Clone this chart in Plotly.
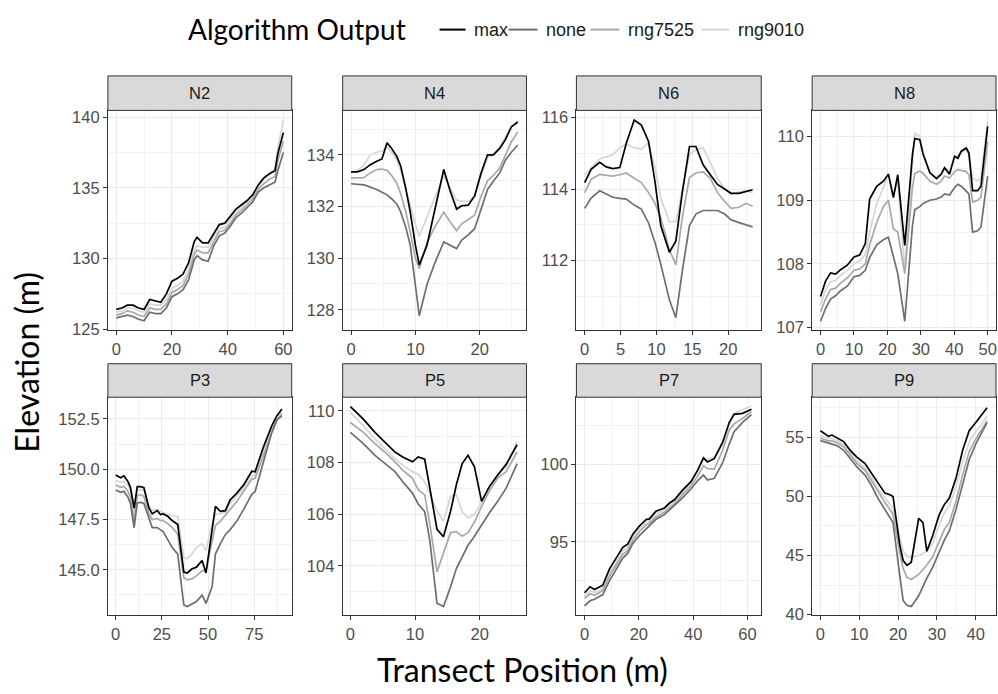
import plotly.graph_objects as go

# ---------------------------------------------------------------------------
# Elevation profiles (m) along each transect, one list per algorithm output
# ---------------------------------------------------------------------------
SERIES = ["max", "none", "rng7525", "rng9010"]

# N2
n2_x = [0, 2, 4, 6, 8, 10, 12, 14, 16, 18, 20, 22, 24, 26, 28, 29, 31, 33, 35, 37,
        39, 41, 43, 45, 47, 49, 51, 53, 55, 57, 58, 60]
n2_max = [126.4, 126.5, 126.7, 126.7, 126.5, 126.4, 127.1, 127.0, 126.9, 127.5, 128.4,
          128.6, 128.9, 129.7, 131.2, 131.5, 131.1, 131.1, 131.8, 132.4, 132.5, 133.0,
          133.5, 133.8, 134.1, 134.5, 135.2, 135.7, 136.0, 136.2, 137.4, 138.9]
n2_none = [125.8, 125.9, 126.0, 125.9, 125.7, 125.6, 126.2, 126.1, 126.1, 126.5, 127.3,
           127.5, 127.8, 128.5, 129.9, 130.2, 129.9, 129.8, 130.9, 131.6, 131.8, 132.3,
           132.9, 133.2, 133.6, 134.0, 134.7, 135.0, 135.2, 135.4, 136.2, 137.5]
n2_rng7525 = [126.0, 126.1, 126.3, 126.2, 126.0, 125.9, 126.5, 126.4, 126.4, 126.8, 127.6,
              127.8, 128.1, 128.9, 130.3, 130.6, 130.4, 130.4, 131.2, 131.9, 132.0, 132.5,
              133.1, 133.4, 133.8, 134.2, 134.9, 135.3, 135.6, 135.8, 136.9, 138.3]
n2_rng9010 = [126.2, 126.3, 126.5, 126.5, 126.3, 126.2, 126.8, 126.7, 126.7, 127.1, 127.9,
              128.1, 128.4, 129.2, 130.6, 130.9, 130.8, 130.8, 131.5, 132.1, 132.2, 132.8,
              133.3, 133.6, 134.0, 134.4, 135.1, 135.6, 135.9, 136.4, 137.8, 139.8]

# N4
n4_x = [0, 1, 2, 3, 4, 4.8, 5.6, 6.3, 7.1, 7.7, 8.5, 9.2, 10, 10.6, 11.8, 13, 14.4,
        15.4, 16.4, 17.2, 18.2, 19.2, 20.2, 21.2, 22.1, 23.1, 24, 24.9, 25.9]
n4_max = [133.34, 133.34, 133.43, 133.62, 133.75, 133.84, 134.47, 134.25, 133.94, 133.58,
          132.7, 131.78, 130.5, 129.74, 130.5, 131.9, 133.43, 132.6, 131.9, 132.03, 132.05,
          132.41, 133.3, 134.0, 134.0, 134.25, 134.6, 135.08, 135.27]
n4_none = [132.88, 132.87, 132.84, 132.75, 132.66, 132.55, 132.45, 132.3, 132.1, 131.8,
           131.2, 130.5, 128.9, 127.77, 128.98, 129.8, 130.63, 130.5, 130.37, 130.7, 130.9,
           131.14, 131.9, 132.66, 132.98, 133.3, 133.8, 134.1, 134.38]
n4_rng7525 = [133.1, 133.1, 133.12, 133.3, 133.43, 133.45, 133.4, 133.2, 132.9, 132.5,
              131.8, 131.0, 130.0, 129.6, 130.6, 131.2, 131.78, 131.4, 131.07, 131.33,
              131.5, 131.66, 132.4, 133.0, 133.2, 133.5, 134.0, 134.5, 134.89]
n4_rng9010 = [133.3, 133.4, 133.6, 134.0, 134.1, 134.15, 134.3, 134.1, 133.8, 133.4,
              132.7, 132.0, 131.3, 130.85, 131.6, 132.4, 133.2, 132.7, 132.25, 132.2,
              132.2, 132.4, 133.2, 133.9, 134.0, 134.3, 134.7, 135.1, 135.3]

# N6
n6_x = [0, 0.9, 2.1, 3, 3.9, 4.9, 5.8, 6.9, 7.9, 8.9, 9.8, 10.6, 11.8, 12.7, 13.6, 14.6,
        15.5, 16.5, 17.5, 18.5, 19.5, 20.4, 21.5, 22.5, 23.4]
n6_max = [114.18, 114.55, 114.75, 114.62, 114.57, 114.6, 115.28, 115.93, 115.79, 115.33,
          114.2, 112.98, 112.23, 112.54, 113.9, 115.19, 115.19, 114.68, 114.4, 114.13,
          114.0, 113.88, 113.88, 113.93, 113.98]
n6_none = [113.46, 113.75, 113.95, 113.85, 113.77, 113.74, 113.72, 113.55, 113.44, 113.05,
           112.5, 111.9, 110.9, 110.4, 111.7, 112.98, 113.3, 113.4, 113.4, 113.4, 113.3,
           113.14, 113.06, 113.0, 112.94]
n6_rng7525 = [113.9, 114.27, 114.41, 114.38, 114.36, 114.4, 114.45, 114.3, 114.18, 113.9,
              113.6, 113.2, 112.3, 111.88, 113.2, 114.32, 114.45, 114.48, 114.3, 113.9,
              113.65, 113.46, 113.49, 113.6, 113.52]
n6_rng9010 = [114.4, 114.6, 114.85, 114.9, 114.96, 115.15, 115.26, 115.15, 115.12, 115.3,
              114.6, 113.75, 113.08, 113.08, 114.0, 114.96, 115.1, 115.15, 114.75, 114.3,
              114.0, 113.86, 113.92, 113.95, 113.9]

# N8
n8_x = [0, 1.5, 3, 4.5, 6, 8, 10, 11.7, 13.4, 14.7, 16.8, 18.8, 20.3, 21.8, 23.1, 25.2,
        27.5, 28.2, 29.7, 30.7, 32.7, 34.7, 36.1, 37.1, 38.6, 40.1, 41.1, 42.1, 43.6,
        44.4, 45.5, 47, 48, 50]
n8_max = [107.49, 107.73, 107.86, 107.84, 107.91, 107.98, 108.11, 108.14, 108.32, 109.02,
          109.22, 109.3, 109.41, 109.04, 109.4, 108.29, 109.72, 109.97, 109.95, 109.72,
          109.43, 109.34, 109.41, 109.51, 109.41, 109.69, 109.66, 109.77, 109.82, 109.74,
          109.15, 109.15, 109.22, 110.16]
n8_none = [107.1, 107.3, 107.45, 107.5, 107.58, 107.65, 107.8, 107.82, 107.9, 108.1,
           108.3, 108.38, 108.42, 108.09, 107.85, 107.1, 108.6, 108.85, 108.9, 108.95,
           109.0, 109.02, 109.05, 109.1, 109.08, 109.2, 109.25, 109.22, 109.15, 109.1,
           108.5, 108.52, 108.58, 109.38]
n8_rng7525 = [107.25, 107.45, 107.6, 107.62, 107.7, 107.78, 107.9, 107.92, 108.0, 108.3,
              108.65, 108.9, 109.0, 108.55, 108.5, 107.85, 109.2, 109.42, 109.46, 109.42,
              109.3, 109.25, 109.3, 109.38, 109.35, 109.45, 109.48, 109.47, 109.45, 109.4,
              108.97, 109.0, 109.05, 109.92]
n8_rng9010 = [107.35, 107.6, 107.72, 107.74, 107.82, 107.9, 108.0, 108.05, 108.15, 108.5,
              108.95, 109.2, 109.42, 109.08, 109.3, 107.9, 109.6, 110.05, 110.0, 109.75,
              109.45, 109.36, 109.42, 109.52, 109.45, 109.68, 109.7, 109.75, 109.8, 109.7,
              109.35, 109.3, 109.35, 110.23]

# P3
p3_x = [0, 2.7, 4.5, 6.7, 8, 10, 11.7, 13.5, 15.3, 18, 19.8, 22.5, 24.3, 25.7, 28.2,
        30.6, 33.6, 36.9, 38.7, 41.4, 43.7, 46.8, 48.9, 52.2, 54, 56.7, 59.4, 62, 65.6,
        69.3, 73.7, 75.5, 80, 84.5, 87.2, 90]
p3_max = [149.71, 149.58, 149.67, 149.38, 149.1, 148.07, 149.13, 149.13, 149.08, 148.07,
          147.78, 147.94, 147.75, 147.78, 147.66, 147.45, 147.25, 144.89, 144.84, 145.05,
          145.13, 145.46, 144.84, 147.09, 148.15, 147.91, 147.94, 148.48, 148.81, 149.22,
          149.9, 149.87, 151.1, 152.16, 152.65, 153.0]
p3_none = [148.97, 148.85, 148.9, 148.6, 148.3, 147.09, 148.32, 148.35, 148.3, 147.58,
           147.1, 147.1, 147.0, 146.9, 146.5, 146.11, 145.78, 143.25, 143.17, 143.3,
           143.42, 143.74, 143.33, 144.15, 145.78, 146.3, 146.76, 147.0, 147.42, 148.0,
           148.75, 148.89, 150.36, 151.83, 152.45, 152.65]
p3_rng7525 = [149.22, 149.1, 149.15, 148.9, 148.6, 147.42, 148.7, 148.73, 148.65, 147.8,
              147.5, 147.55, 147.45, 147.45, 147.3, 147.1, 146.76, 144.6, 144.5, 144.55,
              144.7, 144.95, 144.97, 146.44, 147.2, 147.42, 147.7, 148.0, 148.4, 148.9,
              149.5, 149.55, 150.69, 151.8, 152.4, 152.75]
p3_rng9010 = [149.45, 149.35, 149.4, 149.2, 148.95, 147.85, 148.95, 149.0, 148.95, 148.2,
              147.95, 148.0, 147.9, 147.85, 147.8, 147.7, 147.65, 145.6, 145.55, 145.8,
              146.1, 146.3, 145.95, 147.3, 147.75, 147.8, 147.85, 148.3, 148.65, 149.05,
              149.65, 149.7, 150.9, 152.0, 152.5, 152.85]

# P5
p5_x = [0, 2, 3.8, 5.3, 6.9, 8.1, 9.6, 10.5, 11.5, 12.3, 13.4, 14.4, 15.5, 16.4, 17.3,
        18.2, 19.2, 20.3, 21.5, 22.8, 24.1, 25.8]
p5_max = [110.17, 109.68, 109.17, 108.79, 108.41, 108.22, 108.03, 108.22, 108.13, 107.0,
          105.42, 105.13, 106.12, 107.14, 107.96, 108.28, 107.84, 106.5, 107.07, 107.52,
          107.93, 108.69]
p5_none = [109.17, 108.73, 108.28, 107.96, 107.65, 107.26, 106.82, 106.4, 106.1, 104.97,
           102.56, 102.43, 103.19, 103.9, 104.35, 104.8, 105.15, 105.6, 106.05, 106.5,
           107.01, 107.96]
p5_rng7525 = [109.55, 109.17, 108.73, 108.41, 108.03, 107.71, 107.39, 106.95, 106.75,
              105.61, 103.77, 104.47, 105.29, 105.33, 105.15, 105.29, 105.7, 106.3, 106.9,
              107.4, 107.65, 108.41]
p5_rng9010 = [109.94, 109.43, 108.92, 108.54, 108.15, 107.9, 107.65, 107.55, 107.25,
              106.8, 106.12, 105.74, 106.69, 106.76, 106.1, 105.86, 106.0, 106.45, 107.0,
              107.5, 107.84, 108.82]

# P7
p7_x = [0, 2, 3.7, 5.3, 6.7, 9.2, 11.6, 14.1, 15.9, 17.8, 20.2, 22.7, 23.9, 26.3, 29.4,
        31.3, 33.1, 36.2, 39.2, 41.7, 43.8, 45.3, 47.8, 50.9, 53.3, 55.1, 58.2, 61.5]
p7_max = [91.72, 92.1, 91.93, 92.06, 92.2, 93.26, 93.9, 94.64, 94.85, 95.49, 96.02, 96.44,
          96.48, 96.97, 97.18, 97.5, 97.71, 98.35, 98.88, 99.62, 100.4, 100.15, 100.36,
          101.42, 102.69, 103.22, 103.28, 103.54]
p7_none = [90.87, 91.2, 91.3, 91.45, 91.6, 92.5, 93.2, 93.95, 94.25, 94.9, 95.4, 95.85,
           96.0, 96.45, 96.75, 97.05, 97.3, 97.85, 98.4, 98.95, 99.3, 98.98, 99.09, 100.1,
           101.3, 102.1, 102.7, 103.2]
p7_rng7525 = [91.36, 91.65, 91.55, 91.7, 91.85, 92.8, 93.45, 94.2, 94.45, 95.1, 95.65,
              96.1, 96.2, 96.6, 96.9, 97.2, 97.45, 98.05, 98.6, 99.25, 99.9, 99.72, 99.68,
              100.9, 102.2, 102.6, 102.95, 103.4]
p7_rng9010 = [91.5, 91.85, 91.75, 91.85, 92.0, 93.0, 93.65, 94.4, 94.65, 95.3, 95.85, 96.3,
              96.35, 96.8, 97.05, 97.35, 97.6, 98.2, 98.8, 99.6, 100.45, 100.3, 100.45,
              101.3, 102.6, 103.3, 103.5, 103.75]

# P9
p9_x = [0, 1.3, 2.1, 3, 4.3, 6, 7.7, 9.4, 11.5, 13.2, 14.9, 16.6, 17.9, 18.7, 20.4, 21.3,
        22.3, 23.4, 25.3, 26.4, 27.4, 28.9, 30.6, 31.9, 33.2, 34.9, 36.6, 38.3, 40, 41.7,
        42.9]
p9_max = [55.56, 55.28, 55.08, 55.19, 54.92, 54.64, 53.89, 53.33, 52.78, 51.94, 51.11,
          50.28, 50.14, 50.0, 45.97, 44.58, 44.17, 44.44, 48.14, 47.78, 45.36, 46.67, 48.47,
          49.31, 49.86, 51.53, 53.89, 55.56, 56.25, 56.94, 57.5]
p9_none = [54.72, 54.6, 54.5, 54.45, 54.3, 53.9, 53.2, 52.5, 51.8, 50.9, 49.8, 48.9, 48.3,
           47.8, 43.4, 41.2, 40.8, 40.7, 41.6, 42.4, 43.1, 44.0, 45.4, 46.3, 47.1, 48.9,
           51.0, 53.1, 54.44, 55.5, 56.25]
p9_rng7525 = [54.92, 54.8, 54.7, 54.7, 54.55, 54.2, 53.5, 52.8, 52.2, 51.3, 50.3, 49.5,
              48.9, 48.5, 45.3, 43.9, 43.15, 42.97, 43.4, 43.8, 44.2, 44.9, 46.2, 47.2,
              47.8, 49.6, 51.8, 53.8, 54.86, 55.7, 56.39]
p9_rng9010 = [55.14, 55.0, 54.9, 54.9, 54.75, 54.4, 53.7, 53.0, 52.4, 51.6, 50.6, 49.9,
              49.4, 49.0, 46.6, 45.4, 44.95, 44.85, 45.0, 45.2, 45.35, 46.0, 47.6, 48.6,
              49.2, 50.8, 52.9, 54.6, 55.5, 56.2, 56.8]

PANEL_NAMES = ["N2", "N4", "N6", "N8", "P3", "P5", "P7", "P9"]
PANEL_DATA = {
    "N2": (n2_x, [n2_max, n2_none, n2_rng7525, n2_rng9010]),
    "N4": (n4_x, [n4_max, n4_none, n4_rng7525, n4_rng9010]),
    "N6": (n6_x, [n6_max, n6_none, n6_rng7525, n6_rng9010]),
    "N8": (n8_x, [n8_max, n8_none, n8_rng7525, n8_rng9010]),
    "P3": (p3_x, [p3_max, p3_none, p3_rng7525, p3_rng9010]),
    "P5": (p5_x, [p5_max, p5_none, p5_rng7525, p5_rng9010]),
    "P7": (p7_x, [p7_max, p7_none, p7_rng7525, p7_rng9010]),
    "P9": (p9_x, [p9_max, p9_none, p9_rng7525, p9_rng9010]),
}

# ---------------------------------------------------------------------------
# Axis settings per facet: x range, x tick step, y range, y tick step, y format
# ---------------------------------------------------------------------------
AXES = {
    "N2": ([-3, 63], 20, [124.93, 140.47], 5, None),
    "N4": ([-1.3, 27.25], 10, [127.21, 135.72], 2, None),
    "N6": ([-1.15, 24.6], 5, [110.05, 116.2], 2, None),
    "N8": ([-2.5, 52.5], 10, [106.96, 110.41], 1, None),
    "P3": ([-4.2, 95.3], 25, [142.75, 153.58], 2.5, ".1f"),
    "P5": ([-1.2, 27.25], 10, [102.1, 110.53], 2, None),
    "P7": ([-3.0, 65.1], 20, [90.28, 104.32], 5, None),
    "P9": ([-2.1, 45.2], 10, [39.97, 58.39], 5, None),
}

COLORS = {"max": "#000000", "none": "#6e6e6e", "rng7525": "#a8a8a8", "rng9010": "#d6d6d6"}
W, H = 998, 694
COLS = [(108, 292), (343, 527), (577, 762), (813, 997)]
ROWS = [(75, 110, 333), (367, 401, 622)]   # strip top, plot top, plot bottom (px)
ARIAL = "Liberation Sans, Arial, sans-serif"
TITLE_FONT = "Lato, sans-serif"
TICK_FONT = dict(family=ARIAL, size=16.5, color="#4d4d4d")
BORDER = "#333333"

# legend layout (px): title left edge, then for each entry the key-line start/end and label start
LEGEND_Y = 27
LEGEND_TITLE_X = 186
LEGEND_KEYS = {"max": (440, 466, 472), "none": (509, 538, 545),
               "rng7525": (591, 620, 627), "rng9010": (702, 730, 737)}

fig = go.Figure()
shapes, annotations = [], []

for i, name in enumerate(PANEL_NAMES):
    r, c = divmod(i, 4)
    n = i + 1
    sfx = "" if n == 1 else str(n)
    xs, ys = PANEL_DATA[name]
    # light series first so the black "max" line sits on top
    for k in reversed(range(len(SERIES))):
        s = SERIES[k]
        fig.add_trace(go.Scatter(
            x=xs, y=ys[k], mode="lines", name=s, showlegend=False,
            line=dict(color=COLORS[s], width=1.7),
            xaxis=f"x{sfx}", yaxis=f"y{sfx}", hoverinfo="skip"))

    xr, xd, yr, yd, yfmt = AXES[name]
    x0, x1 = COLS[c]
    st, pt, pb = ROWS[r]
    common = dict(showgrid=True, gridcolor="#ebebeb", gridwidth=1.3, zeroline=False,
                  showline=True, mirror=True, linecolor=BORDER, linewidth=1,
                  ticks="outside", ticklen=4, tickwidth=1, tickcolor=BORDER,
                  tickfont=TICK_FONT, tickmode="linear", tick0=0)
    fig.layout[f"xaxis{sfx}"] = dict(
        domain=[x0 / W, x1 / W], anchor=f"y{sfx}", range=xr, dtick=xd,
        minor=dict(dtick=xd / 2, tick0=0, showgrid=True, gridcolor="#f2f2f2", gridwidth=0.8),
        **common)
    ydict = dict(
        domain=[1 - pb / H, 1 - pt / H], anchor=f"x{sfx}", range=yr, dtick=yd,
        minor=dict(dtick=yd / 2, tick0=0, showgrid=True, gridcolor="#f2f2f2", gridwidth=0.8),
        **common)
    if yfmt:
        ydict["tickformat"] = yfmt
    fig.layout[f"yaxis{sfx}"] = ydict

    # facet strip
    shapes.append(dict(type="rect", xref="paper", yref="paper",
                       x0=x0 / W, x1=x1 / W, y0=1 - pt / H, y1=1 - st / H,
                       fillcolor="#d9d9d9", line=dict(color=BORDER, width=1), layer="above"))
    annotations.append(dict(text=name, xref="paper", yref="paper",
                            x=(x0 + x1) / 2 / W, y=1 - (st + pt) / 2 / H,
                            xanchor="center", yanchor="middle", showarrow=False,
                            font=dict(family=ARIAL, size=16.5, color="#1a1a1a")))

# legend: title plus one key line and label per series
annotations.append(dict(text="Algorithm Output", xref="paper", yref="paper",
                        x=LEGEND_TITLE_X / W, y=1 - LEGEND_Y / H, xanchor="left",
                        yanchor="middle", showarrow=False,
                        font=dict(family=TITLE_FONT, size=28, color="#000000")))
for s in SERIES:
    lx0, lx1, tx = LEGEND_KEYS[s]
    shapes.append(dict(type="line", xref="paper", yref="paper",
                       x0=lx0 / W, x1=lx1 / W, y0=1 - (LEGEND_Y + 1) / H, y1=1 - (LEGEND_Y + 1) / H,
                       line=dict(color=COLORS[s], width=2)))
    annotations.append(dict(text=s, xref="paper", yref="paper", x=tx / W,
                            y=1 - (LEGEND_Y + 1) / H, xanchor="left", yanchor="middle",
                            showarrow=False, font=dict(family=ARIAL, size=18, color="#1a1a1a")))

# shared axis titles
annotations.append(dict(text="Transect Position (m)", xref="paper", yref="paper",
                        x=523 / W, y=1 - 677 / H, xanchor="center", yanchor="middle",
                        showarrow=False, font=dict(family=TITLE_FONT, size=32, color="#000000")))
annotations.append(dict(text="Elevation (m)", xref="paper", yref="paper",
                        x=27 / W, y=1 - 365 / H, xanchor="center", yanchor="middle",
                        textangle=-90, showarrow=False,
                        font=dict(family=TITLE_FONT, size=32, color="#000000")))

fig.update_layout(
    width=W, height=H, margin=dict(l=0, r=0, t=0, b=0),
    paper_bgcolor="white", plot_bgcolor="white",
    shapes=shapes, annotations=annotations, showlegend=False,
)

fig.write_html("out.html")
